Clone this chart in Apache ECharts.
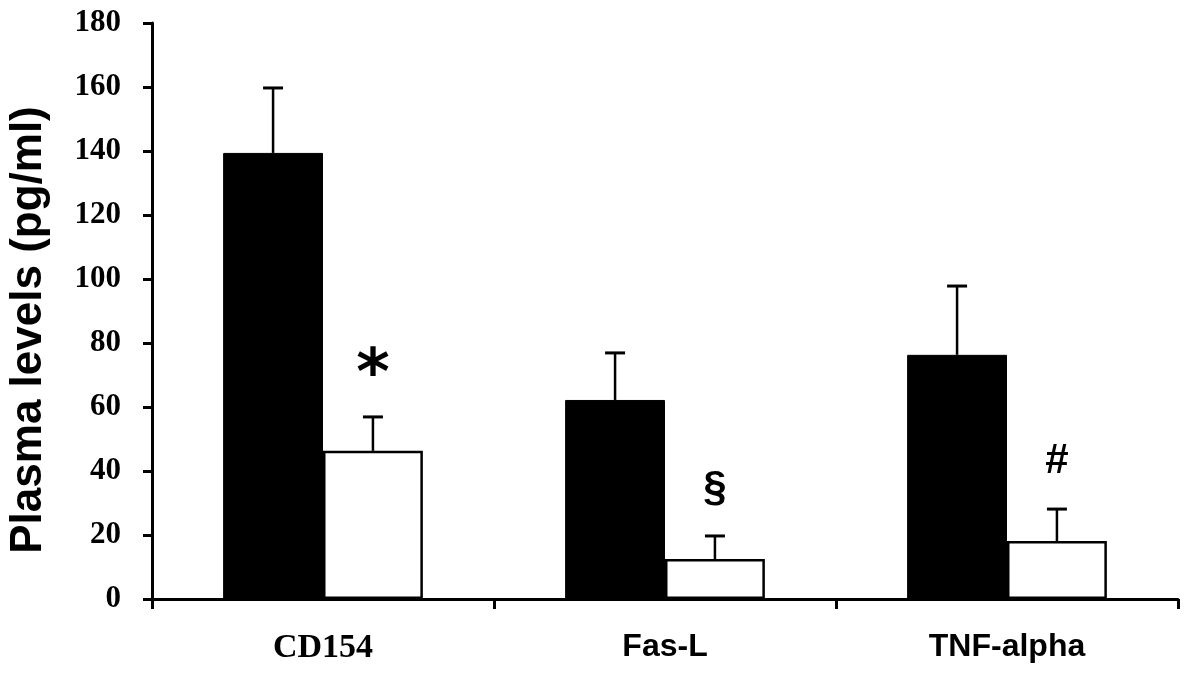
<!DOCTYPE html>
<html>
<head>
<meta charset="utf-8">
<script src="https://cdn.jsdelivr.net/npm/echarts@6/dist/echarts.min.js"></script>
<style>
html,body{margin:0;padding:0;background:#fff;}
#chart{width:1200px;height:674px;}
</style>
</head>
<body>
<div id="chart"></div>
<script>
// ---- data ----
const categories = ['CD154', 'Fas-L', 'TNF-alpha'];
const blackValues = [139.4, 62.2, 76.3];
const whiteValues = [46.3, 12.5, 18.1];
const blackErrors = [20.3, 14.7, 21.5];
const whiteErrors = [10.6, 7.2, 10.0];
const whiteMarks = ['*', '§', '#'];
const yMin = 0, yMax = 180, yStep = 20;
const yAxisTitle = 'Plasma levels (pg/ml)';

// ---- styles ----
const BAR_RATIO = 0.292;
const chart = echarts.init(document.getElementById('chart'));

function errorSeries(values, errors, side, marks) {
  const data = values.map((v, i) => [i, v, v + errors[i], marks ? marks[i] : '']);
  return {
    type: 'custom',
    z: 5,
    silent: true,
    data: data,
    encode: { x: 0, y: [1, 2] },
    renderItem: function (params, api) {
      const idx = api.value(0);
      const band = api.size([1, 0])[0];
      const base = api.coord([idx, api.value(1)]);
      const top = api.coord([idx, api.value(2)]);
      const x = base[0] + side * band * BAR_RATIO / 2;
      const cap = 10;
      const children = [
        { type: 'line', shape: { x1: x, y1: base[1], x2: x, y2: top[1] },
          style: { stroke: '#000', lineWidth: 2.5 } },
        { type: 'line', shape: { x1: x - cap, y1: top[1], x2: x + cap, y2: top[1] },
          style: { stroke: '#000', lineWidth: 3 } }
      ];
      const m = data[params.dataIndex][3];
      if (m) {
        const big = m === '*';
        children.push({
          type: 'text',
          style: {
            text: m, x: x, y: top[1] - (big ? 40 : 48),
            align: 'center', verticalAlign: 'middle',
            fill: '#000',
            font: big ? 'bold 64px "DejaVu Sans"' : 'bold 42px "Liberation Sans"'
          }
        });
      }
      return { type: 'group', children: children };
    }
  };
}

const option = {
  backgroundColor: '#fff',
  animation: false,
  grid: { left: 152, right: 22, top: 23, bottom: 75, containLabel: false },
  xAxis: {
    type: 'category',
    data: categories,
    boundaryGap: true,
    axisLine: { lineStyle: { color: '#000', width: 3 } },
    axisTick: { show: true, alignWithLabel: false, interval: 0, length: 10, lineStyle: { color: '#000', width: 3 } },
    axisLabel: {
      interval: 0, margin: 32,
      formatter: function (v, i) { return i === 0 ? '{serif|' + v + '}' : '{sans|' + v + '}'; },
      rich: {
        serif: { fontFamily: 'Liberation Serif', fontWeight: 'bold', fontSize: 34, color: '#000' },
        sans: { fontFamily: 'Liberation Sans', fontWeight: 'bold', fontSize: 32, color: '#000' }
      }
    },
    splitLine: { show: false }
  },
  yAxis: {
    type: 'value',
    min: yMin, max: yMax, interval: yStep,
    axisLine: { show: true, lineStyle: { color: '#000', width: 3 } },
    axisTick: { show: true, length: 9, lineStyle: { color: '#000', width: 3 } },
    axisLabel: { margin: 31, fontFamily: 'Liberation Serif', fontWeight: 'bold', fontSize: 31, color: '#000' },
    splitLine: { show: false }
  },
  graphic: [{
    type: 'text',
    x: 29, y: 330,
    rotation: Math.PI / 2,
    style: {
      text: yAxisTitle,
      font: 'bold 44px "Liberation Sans"',
      fill: '#000',
      align: 'center', verticalAlign: 'middle'
    }
  }],
  series: [
    {
      type: 'bar', data: blackValues,
      barWidth: (BAR_RATIO * 100) + '%', barGap: '0%',
      itemStyle: { color: '#000', borderColor: '#000', borderWidth: 1 }
    },
    {
      type: 'bar', data: whiteValues,
      barWidth: (BAR_RATIO * 100) + '%', barGap: '0%',
      itemStyle: { color: '#fff', borderColor: '#000', borderWidth: 2.5 }
    },
    errorSeries(blackValues, blackErrors, -1, null),
    errorSeries(whiteValues, whiteErrors, 1, whiteMarks)
  ]
};
chart.setOption(option);
</script>
</body>
</html>
